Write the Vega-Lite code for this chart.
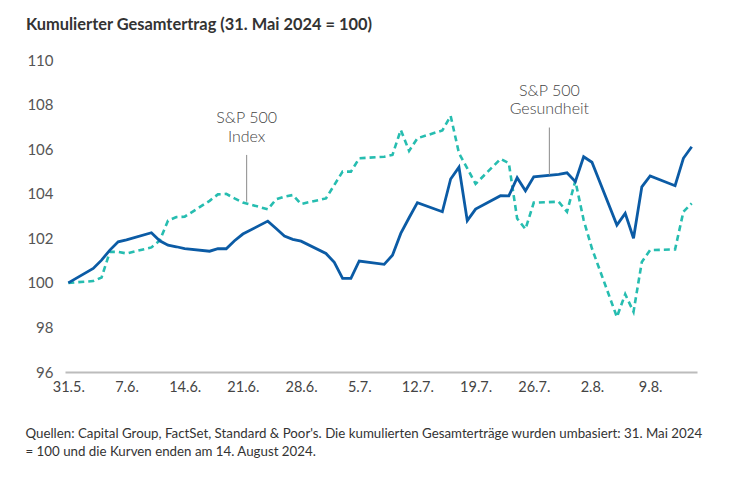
{
  "$schema": "https://vega.github.io/schema/vega-lite/v6.json",
  "width": 632,
  "height": 312,
  "autosize": {"type": "none"},
  "padding": {"left": 65, "top": 60, "right": 39, "bottom": 109},
  "background": "white",
  "config": {"view": {"stroke": null}},
  "title": {
    "text": "Kumulierter Gesamtertrag (31. Mai 2024 = 100)",
    "anchor": "start",
    "frame": "group",
    "dx": -39,
    "offset": 20,
    "font": "Lato",
    "fontSize": 16.4,
    "fontWeight": "bold",
    "color": "#333333"
  },
  "datasets": {
    "gesundheit": [
      {"date": "2024-05-31", "value": 100.0},
      {"date": "2024-06-03", "value": 100.65},
      {"date": "2024-06-04", "value": 101.02},
      {"date": "2024-06-05", "value": 101.47},
      {"date": "2024-06-06", "value": 101.84},
      {"date": "2024-06-07", "value": 101.93},
      {"date": "2024-06-10", "value": 102.25},
      {"date": "2024-06-11", "value": 101.89},
      {"date": "2024-06-12", "value": 101.69},
      {"date": "2024-06-13", "value": 101.62},
      {"date": "2024-06-14", "value": 101.54},
      {"date": "2024-06-17", "value": 101.42},
      {"date": "2024-06-18", "value": 101.53},
      {"date": "2024-06-19", "value": 101.53},
      {"date": "2024-06-20", "value": 101.89},
      {"date": "2024-06-21", "value": 102.19},
      {"date": "2024-06-24", "value": 102.77},
      {"date": "2024-06-25", "value": 102.44},
      {"date": "2024-06-26", "value": 102.1},
      {"date": "2024-06-27", "value": 101.95},
      {"date": "2024-06-28", "value": 101.87},
      {"date": "2024-07-01", "value": 101.32},
      {"date": "2024-07-02", "value": 100.92},
      {"date": "2024-07-03", "value": 100.2},
      {"date": "2024-07-04", "value": 100.2},
      {"date": "2024-07-05", "value": 100.98},
      {"date": "2024-07-08", "value": 100.83},
      {"date": "2024-07-09", "value": 101.24},
      {"date": "2024-07-10", "value": 102.22},
      {"date": "2024-07-11", "value": 102.92},
      {"date": "2024-07-12", "value": 103.6},
      {"date": "2024-07-15", "value": 103.19},
      {"date": "2024-07-16", "value": 104.66},
      {"date": "2024-07-17", "value": 105.19},
      {"date": "2024-07-18", "value": 102.79},
      {"date": "2024-07-19", "value": 103.31},
      {"date": "2024-07-22", "value": 103.91},
      {"date": "2024-07-23", "value": 103.9},
      {"date": "2024-07-24", "value": 104.72},
      {"date": "2024-07-25", "value": 104.13},
      {"date": "2024-07-26", "value": 104.76},
      {"date": "2024-07-29", "value": 104.87},
      {"date": "2024-07-30", "value": 104.94},
      {"date": "2024-07-31", "value": 104.54},
      {"date": "2024-08-01", "value": 105.66},
      {"date": "2024-08-02", "value": 105.41},
      {"date": "2024-08-05", "value": 102.59},
      {"date": "2024-08-06", "value": 103.12},
      {"date": "2024-08-07", "value": 102.0},
      {"date": "2024-08-08", "value": 104.31},
      {"date": "2024-08-09", "value": 104.8},
      {"date": "2024-08-12", "value": 104.36},
      {"date": "2024-08-13", "value": 105.59},
      {"date": "2024-08-14", "value": 106.11}
    ],
    "index": [
      {"date": "2024-05-31", "value": 100.0},
      {"date": "2024-06-03", "value": 100.08},
      {"date": "2024-06-04", "value": 100.24},
      {"date": "2024-06-05", "value": 101.39},
      {"date": "2024-06-06", "value": 101.39},
      {"date": "2024-06-07", "value": 101.32},
      {"date": "2024-06-10", "value": 101.59},
      {"date": "2024-06-11", "value": 101.9},
      {"date": "2024-06-12", "value": 102.8},
      {"date": "2024-06-13", "value": 102.95},
      {"date": "2024-06-14", "value": 102.97},
      {"date": "2024-06-17", "value": 103.68},
      {"date": "2024-06-18", "value": 103.97},
      {"date": "2024-06-19", "value": 103.99},
      {"date": "2024-06-20", "value": 103.79},
      {"date": "2024-06-21", "value": 103.61},
      {"date": "2024-06-24", "value": 103.3},
      {"date": "2024-06-25", "value": 103.75},
      {"date": "2024-06-26", "value": 103.87},
      {"date": "2024-06-27", "value": 103.94},
      {"date": "2024-06-28", "value": 103.54},
      {"date": "2024-07-01", "value": 103.79},
      {"date": "2024-07-02", "value": 104.39},
      {"date": "2024-07-03", "value": 104.99},
      {"date": "2024-07-04", "value": 104.99},
      {"date": "2024-07-05", "value": 105.59},
      {"date": "2024-07-08", "value": 105.66},
      {"date": "2024-07-09", "value": 105.74},
      {"date": "2024-07-10", "value": 106.86},
      {"date": "2024-07-11", "value": 105.92},
      {"date": "2024-07-12", "value": 106.49},
      {"date": "2024-07-15", "value": 106.84},
      {"date": "2024-07-16", "value": 107.49},
      {"date": "2024-07-17", "value": 105.82},
      {"date": "2024-07-18", "value": 105.14},
      {"date": "2024-07-19", "value": 104.44},
      {"date": "2024-07-22", "value": 105.56},
      {"date": "2024-07-23", "value": 105.37},
      {"date": "2024-07-24", "value": 102.89},
      {"date": "2024-07-25", "value": 102.41},
      {"date": "2024-07-26", "value": 103.6},
      {"date": "2024-07-29", "value": 103.64},
      {"date": "2024-07-30", "value": 103.19},
      {"date": "2024-07-31", "value": 104.58},
      {"date": "2024-08-01", "value": 102.82},
      {"date": "2024-08-02", "value": 101.54},
      {"date": "2024-08-05", "value": 98.47},
      {"date": "2024-08-06", "value": 99.49},
      {"date": "2024-08-07", "value": 98.7},
      {"date": "2024-08-08", "value": 100.94},
      {"date": "2024-08-09", "value": 101.47},
      {"date": "2024-08-12", "value": 101.5},
      {"date": "2024-08-13", "value": 103.19},
      {"date": "2024-08-14", "value": 103.57}
    ],
    "leaders": [
      {"date": "2024-06-21T11:00:00Z", "y1": 105.74, "y2": 103.64},
      {"date": "2024-07-27T21:00:00Z", "y1": 106.97, "y2": 104.84}
    ],
    "labels": [
      {"date": "2024-06-21T11:00:00Z", "value": 107.38, "text": "S&P 500"},
      {"date": "2024-06-21T11:00:00Z", "value": 106.53, "text": "Index"},
      {"date": "2024-07-27T21:00:00Z", "value": 108.62, "text": "S&P 500"},
      {"date": "2024-07-27T21:00:00Z", "value": 107.78, "text": "Gesundheit"}
    ]
  },
  "encoding": {
    "x": {
      "field": "date",
      "type": "temporal",
      "scale": {
        "type": "utc",
        "domain": [
          {"year": 2024, "month": 5, "date": 30, "hours": 14, "minutes": 28, "utc": true},
          {"year": 2024, "month": 8, "date": 14, "hours": 15, "minutes": 18, "utc": true}
        ]
      },
      "axis": {
        "values": [
          {"year": 2024, "month": 5, "date": 31, "utc": true},
          {"year": 2024, "month": 6, "date": 7, "utc": true},
          {"year": 2024, "month": 6, "date": 14, "utc": true},
          {"year": 2024, "month": 6, "date": 21, "utc": true},
          {"year": 2024, "month": 6, "date": 28, "utc": true},
          {"year": 2024, "month": 7, "date": 5, "utc": true},
          {"year": 2024, "month": 7, "date": 12, "utc": true},
          {"year": 2024, "month": 7, "date": 19, "utc": true},
          {"year": 2024, "month": 7, "date": 26, "utc": true},
          {"year": 2024, "month": 8, "date": 2, "utc": true},
          {"year": 2024, "month": 8, "date": 9, "utc": true}
        ],
        "labelExpr": "utcFormat(datum.value, '%-d.%-m.')",
        "grid": false,
        "ticks": false,
        "domainColor": "#bcbcbc",
        "domainWidth": 2,
        "labelFont": "Lato",
        "labelFontSize": 14.5,
        "labelColor": "#444444",
        "labelPadding": 8,
        "labelFlush": false,
        "labelOverlap": false,
        "title": [
          "Quellen: Capital Group, FactSet, Standard & Poor's. Die kumulierten Gesamterträge wurden umbasiert: 31. Mai 2024",
          "= 100 und die Kurven enden am 14. August 2024."
        ],
        "titleAnchor": "start",
        "titleAlign": "left",
        "titleBaseline": "alphabetic",
        "titleX": -40,
        "titleY": 65,
        "titleFont": "Lato",
        "titleFontSize": 13.3,
        "titleFontWeight": "normal",
        "titleColor": "#333333",
        "titleLineHeight": 18.5
      }
    }
  },
  "layer": [
    {
      "mark": {"type": "rule", "color": "#bcbcbc", "strokeWidth": 2},
      "encoding": {
        "x": null,
        "y": {"datum": 100, "type": "quantitative"}
      }
    },
    {
      "data": {"name": "index"},
      "mark": {"type": "line", "color": "#26bdb0", "strokeWidth": 2.6, "strokeDash": [6, 4]},
      "encoding": {
        "y": {
          "field": "value",
          "type": "quantitative",
          "scale": {"domain": [96, 110], "nice": false, "zero": false},
          "axis": {
            "values": [96, 98, 100, 102, 104, 106, 108, 110],
            "domain": false,
            "ticks": false,
            "grid": false,
            "labelFont": "Lato",
            "labelFontSize": 15,
            "labelColor": "#555555",
            "labelPadding": 12,
            "title": null
          }
        }
      }
    },
    {
      "data": {"name": "gesundheit"},
      "mark": {"type": "line", "color": "#0b5ba5", "strokeWidth": 2.8},
      "encoding": {
        "y": {"field": "value", "type": "quantitative"}
      }
    },
    {
      "data": {"name": "leaders"},
      "mark": {"type": "rule", "color": "#8a8a8a", "strokeWidth": 1},
      "encoding": {
        "y": {"field": "y1", "type": "quantitative"},
        "y2": {"field": "y2"}
      }
    },
    {
      "data": {"name": "labels"},
      "mark": {"type": "text", "font": "Lato", "fontWeight": 300, "fontSize": 16, "color": "#444444", "align": "center", "baseline": "middle"},
      "encoding": {
        "y": {"field": "value", "type": "quantitative"},
        "text": {"field": "text"}
      }
    }
  ]
}
